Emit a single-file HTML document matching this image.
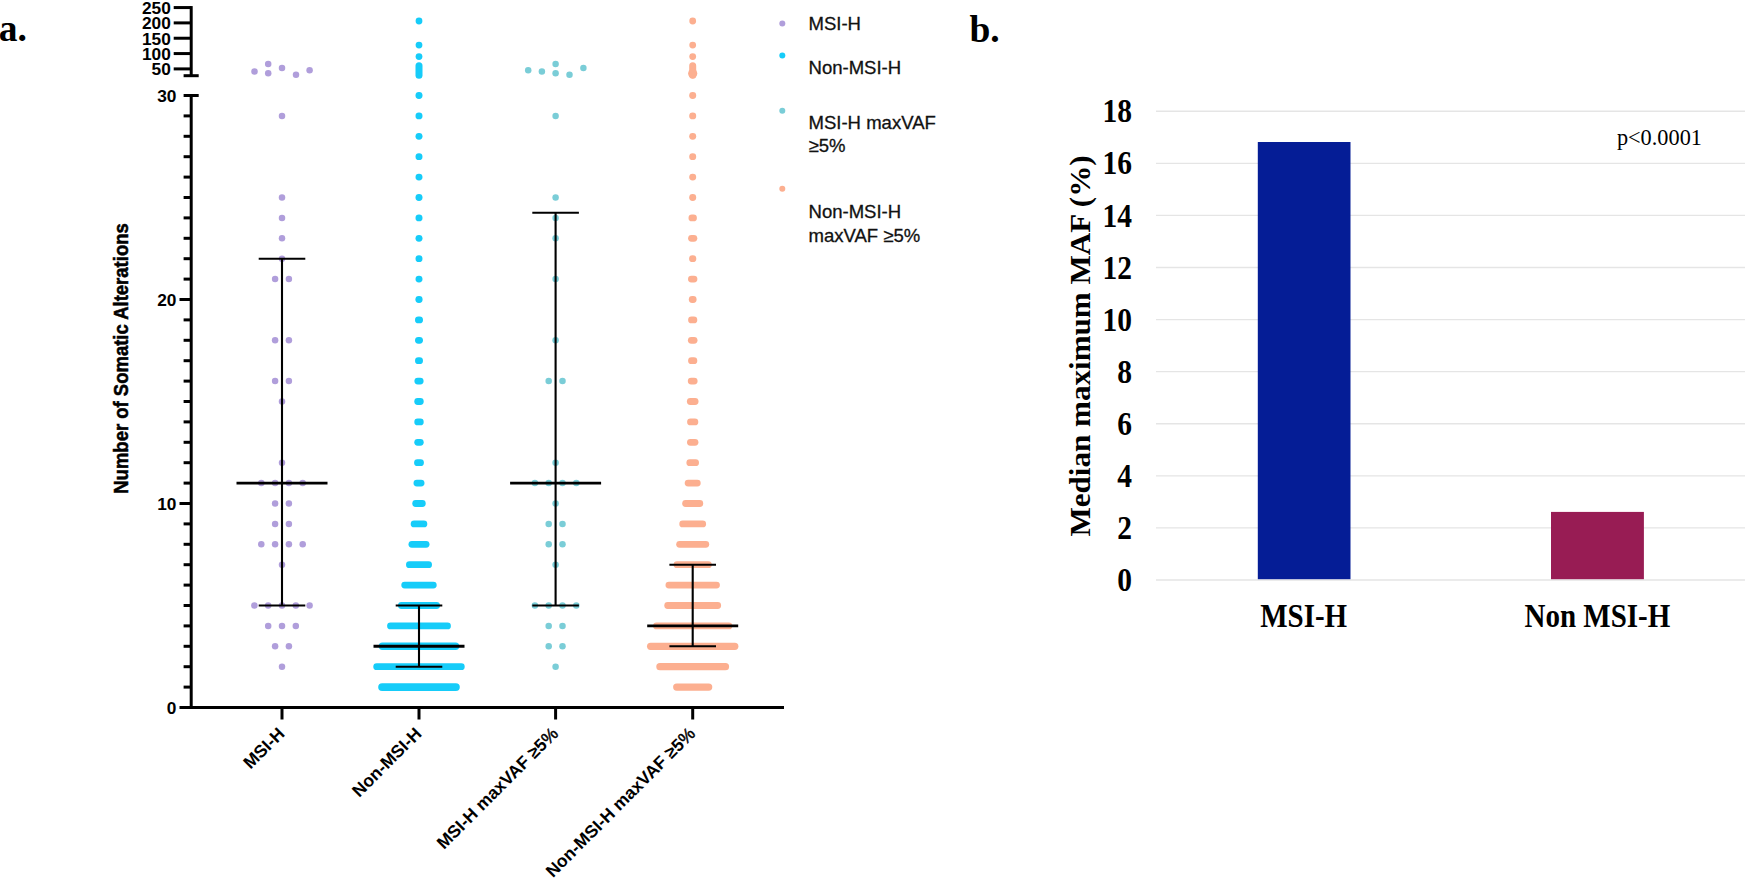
<!DOCTYPE html>
<html lang="en">
<head>
<meta charset="utf-8">
<title>Figure</title>
<style>
html,body{margin:0;padding:0;background:#fff;}
body{width:1745px;height:879px;overflow:hidden;}
svg{display:block;}
</style>
</head>
<body>
<svg width="1745" height="879" viewBox="0 0 1745 879" role="img" aria-label="Figure with panels a and b">
<rect width="1745" height="879" fill="#ffffff"/>
<g font-family='"Liberation Serif", "Times New Roman", Times, serif' font-weight="bold" font-size="37.5" fill="#000">
<text x="-1.3" y="41.3">a.</text>
<text x="969.5" y="41.5">b.</text>
</g>
<g fill="#b09edb">
<circle cx="282" cy="115.9" r="3.25"/>
<circle cx="282" cy="197.5" r="3.25"/>
<circle cx="282" cy="217.9" r="3.25"/>
<circle cx="282" cy="238.3" r="3.25"/>
<circle cx="282" cy="258.7" r="3.25"/>
<circle cx="275.1" cy="279.1" r="3.25"/><circle cx="288.9" cy="279.1" r="3.25"/>
<circle cx="275.1" cy="340.3" r="3.25"/><circle cx="288.9" cy="340.3" r="3.25"/>
<circle cx="275.1" cy="381.1" r="3.25"/><circle cx="288.9" cy="381.1" r="3.25"/>
<circle cx="282" cy="401.5" r="3.25"/>
<circle cx="282" cy="462.7" r="3.25"/>
<circle cx="261.3" cy="483.1" r="3.25"/><circle cx="275.1" cy="483.1" r="3.25"/><circle cx="288.9" cy="483.1" r="3.25"/><circle cx="302.7" cy="483.1" r="3.25"/>
<circle cx="275.1" cy="503.5" r="3.25"/><circle cx="288.9" cy="503.5" r="3.25"/>
<circle cx="275.1" cy="523.9" r="3.25"/><circle cx="288.9" cy="523.9" r="3.25"/>
<circle cx="261.3" cy="544.3" r="3.25"/><circle cx="275.1" cy="544.3" r="3.25"/><circle cx="288.9" cy="544.3" r="3.25"/><circle cx="302.7" cy="544.3" r="3.25"/>
<circle cx="282" cy="564.7" r="3.25"/>
<circle cx="254.4" cy="605.5" r="3.25"/><circle cx="268.2" cy="605.5" r="3.25"/><circle cx="282" cy="605.5" r="3.25"/><circle cx="295.8" cy="605.5" r="3.25"/><circle cx="309.6" cy="605.5" r="3.25"/>
<circle cx="268.2" cy="625.9" r="3.25"/><circle cx="282" cy="625.9" r="3.25"/><circle cx="295.8" cy="625.9" r="3.25"/>
<circle cx="275.1" cy="646.3" r="3.25"/><circle cx="288.9" cy="646.3" r="3.25"/>
<circle cx="282" cy="666.7" r="3.25"/>
<circle cx="254.5" cy="71.6" r="3.25"/>
<circle cx="268.2" cy="64.1" r="3.25"/>
<circle cx="268.2" cy="73.3" r="3.25"/>
<circle cx="282" cy="68.1" r="3.25"/>
<circle cx="296" cy="74.8" r="3.25"/>
<circle cx="309.6" cy="70.3" r="3.25"/>
</g>
<g fill="#7acdd7">
<circle cx="555.6" cy="115.9" r="3.25"/>
<circle cx="555.6" cy="197.5" r="3.25"/>
<circle cx="555.6" cy="217.9" r="3.25"/>
<circle cx="555.6" cy="238.3" r="3.25"/>
<circle cx="555.6" cy="279.1" r="3.25"/>
<circle cx="555.6" cy="340.3" r="3.25"/>
<circle cx="548.7" cy="381.1" r="3.25"/><circle cx="562.5" cy="381.1" r="3.25"/>
<circle cx="555.6" cy="462.7" r="3.25"/>
<circle cx="534.9" cy="483.1" r="3.25"/><circle cx="548.7" cy="483.1" r="3.25"/><circle cx="562.5" cy="483.1" r="3.25"/><circle cx="576.3" cy="483.1" r="3.25"/>
<circle cx="555.6" cy="503.5" r="3.25"/>
<circle cx="548.7" cy="523.9" r="3.25"/><circle cx="562.5" cy="523.9" r="3.25"/>
<circle cx="548.7" cy="544.3" r="3.25"/><circle cx="562.5" cy="544.3" r="3.25"/>
<circle cx="555.6" cy="564.7" r="3.25"/>
<circle cx="534.9" cy="605.5" r="3.25"/><circle cx="548.7" cy="605.5" r="3.25"/><circle cx="562.5" cy="605.5" r="3.25"/><circle cx="576.3" cy="605.5" r="3.25"/>
<circle cx="548.7" cy="625.9" r="3.25"/><circle cx="562.5" cy="625.9" r="3.25"/>
<circle cx="548.7" cy="646.3" r="3.25"/><circle cx="562.5" cy="646.3" r="3.25"/>
<circle cx="555.6" cy="666.7" r="3.25"/>
<circle cx="528.2" cy="70.3" r="3.25"/>
<circle cx="541.9" cy="71.6" r="3.25"/>
<circle cx="555.6" cy="64.1" r="3.25"/>
<circle cx="555.6" cy="73.3" r="3.25"/>
<circle cx="569.5" cy="74.8" r="3.25"/>
<circle cx="583.4" cy="68.1" r="3.25"/>
</g>
<g stroke="#16ccf9" stroke-width="6.8" stroke-linecap="round" fill="#16ccf9">
<line x1="382.15" y1="687.1" x2="455.85" y2="687.1" stroke-width="7.9"/>
<line x1="376.7" y1="666.7" x2="461.3" y2="666.7"/>
<line x1="382.4" y1="646.3" x2="455.6" y2="646.3" stroke-width="7.4"/>
<line x1="390.5" y1="625.9" x2="447.5" y2="625.9"/>
<line x1="401.4" y1="605.5" x2="436.6" y2="605.5"/>
<line x1="404.7" y1="585.1" x2="433.3" y2="585.1"/>
<line x1="409.4" y1="564.7" x2="428.6" y2="564.7"/>
<line x1="411.9" y1="544.3" x2="426.1" y2="544.3"/>
<line x1="414.1" y1="523.9" x2="423.9" y2="523.9"/>
<line x1="415.7" y1="503.5" x2="422.3" y2="503.5"/>
<line x1="416.9" y1="483.1" x2="421.1" y2="483.1"/>
<line x1="417.5" y1="462.7" x2="420.5" y2="462.7"/>
<line x1="417.7" y1="442.3" x2="420.3" y2="442.3"/>
<line x1="417.7" y1="421.9" x2="420.3" y2="421.9"/>
<line x1="417.7" y1="401.5" x2="420.3" y2="401.5"/>
<line x1="417.8" y1="381.1" x2="420.2" y2="381.1"/>
<line x1="418.4" y1="360.7" x2="419.6" y2="360.7"/>
<line x1="418.4" y1="340.3" x2="419.6" y2="340.3"/>
<line x1="418.4" y1="319.9" x2="419.6" y2="319.9"/>
<line x1="418.8" y1="299.5" x2="419.2" y2="299.5"/>
<line x1="418.9" y1="279.1" x2="419.1" y2="279.1"/>
<line x1="418.9" y1="258.7" x2="419.1" y2="258.7"/>
<line x1="418.9" y1="238.3" x2="419.1" y2="238.3"/>
<line x1="418.9" y1="217.9" x2="419.1" y2="217.9"/>
<line x1="418.9" y1="197.5" x2="419.1" y2="197.5"/>
<line x1="418.9" y1="177.1" x2="419.1" y2="177.1"/>
<line x1="418.9" y1="156.7" x2="419.1" y2="156.7"/>
<line x1="418.9" y1="136.3" x2="419.1" y2="136.3"/>
<line x1="418.9" y1="115.9" x2="419.1" y2="115.9"/>
<line x1="418.9" y1="95.5" x2="419.1" y2="95.5"/>
<line x1="419" y1="65.8" x2="419" y2="75.2" stroke-width="7"/>
</g>
<g fill="#16ccf9">
<circle cx="419" cy="21" r="3.4"/>
<circle cx="419" cy="45.1" r="3.4"/>
<circle cx="419" cy="56.6" r="3.4"/>
</g>
<g stroke="#fcaf90" stroke-width="6.8" stroke-linecap="round" fill="#fcaf90">
<line x1="676.7" y1="687.1" x2="708.7" y2="687.1" stroke-width="7.2"/>
<line x1="659.9" y1="666.7" x2="725.5" y2="666.7" stroke-width="7.2"/>
<line x1="650.6" y1="646.3" x2="734.8" y2="646.3" stroke-width="7.2"/>
<line x1="656.5" y1="625.9" x2="728.9" y2="625.9"/>
<line x1="667.7" y1="605.5" x2="717.7" y2="605.5"/>
<line x1="668.9" y1="585.1" x2="716.5" y2="585.1"/>
<line x1="677" y1="564.7" x2="708.4" y2="564.7"/>
<line x1="679.6" y1="544.3" x2="705.8" y2="544.3"/>
<line x1="682.7" y1="523.9" x2="702.7" y2="523.9"/>
<line x1="685.6" y1="503.5" x2="699.8" y2="503.5"/>
<line x1="688.1" y1="483.1" x2="697.3" y2="483.1"/>
<line x1="689.8" y1="462.7" x2="695.6" y2="462.7"/>
<line x1="690.4" y1="442.3" x2="695" y2="442.3"/>
<line x1="690.5" y1="421.9" x2="694.9" y2="421.9"/>
<line x1="690.3" y1="401.5" x2="695.1" y2="401.5"/>
<line x1="691.2" y1="381.1" x2="694.2" y2="381.1"/>
<line x1="691.5" y1="360.7" x2="693.9" y2="360.7"/>
<line x1="691.3" y1="340.3" x2="694.1" y2="340.3"/>
<line x1="691.5" y1="319.9" x2="693.9" y2="319.9"/>
<line x1="692.2" y1="299.5" x2="693.2" y2="299.5"/>
<line x1="691.4" y1="279.1" x2="694" y2="279.1"/>
<line x1="692.5" y1="258.7" x2="692.9" y2="258.7"/>
<line x1="691.5" y1="238.3" x2="693.9" y2="238.3"/>
<line x1="691.9" y1="217.9" x2="693.5" y2="217.9"/>
<line x1="692.6" y1="197.5" x2="692.8" y2="197.5"/>
<line x1="692.6" y1="177.1" x2="692.8" y2="177.1"/>
<line x1="692.6" y1="156.7" x2="692.8" y2="156.7"/>
<line x1="692.6" y1="136.3" x2="692.8" y2="136.3"/>
<line x1="692.6" y1="115.9" x2="692.8" y2="115.9"/>
<line x1="692.6" y1="95.5" x2="692.8" y2="95.5"/>
<line x1="692.7" y1="65.8" x2="692.7" y2="75.2" stroke-width="7"/>
</g>
<g fill="#fcaf90">
<circle cx="692.7" cy="21" r="3.4"/>
<circle cx="692.7" cy="45.1" r="3.4"/>
<circle cx="692.7" cy="56.6" r="3.4"/>
</g>
<ellipse cx="692.7" cy="73.6" rx="4.6" ry="4.8" fill="#fcaf90"/>
<g stroke="#000" fill="none"><line x1="282" y1="258.7" x2="282" y2="605.5" stroke-width="2.1"/><line x1="258.7" y1="258.7" x2="305.3" y2="258.7" stroke-width="2.1"/><line x1="258.7" y1="605.5" x2="305.3" y2="605.5" stroke-width="2.1"/><line x1="236.5" y1="483.1" x2="327.5" y2="483.1" stroke-width="2.9"/></g>
<g stroke="#000" fill="none"><line x1="419" y1="605.5" x2="419" y2="666.7" stroke-width="2.1"/><line x1="395.7" y1="605.5" x2="442.3" y2="605.5" stroke-width="2.1"/><line x1="395.7" y1="666.7" x2="442.3" y2="666.7" stroke-width="2.1"/><line x1="373.5" y1="646.3" x2="464.5" y2="646.3" stroke-width="2.9"/></g>
<g stroke="#000" fill="none"><line x1="555.6" y1="212.8" x2="555.6" y2="605.5" stroke-width="2.1"/><line x1="532.3" y1="212.8" x2="578.9" y2="212.8" stroke-width="2.1"/><line x1="532.3" y1="605.5" x2="578.9" y2="605.5" stroke-width="2.1"/><line x1="510.1" y1="483.1" x2="601.1" y2="483.1" stroke-width="2.9"/></g>
<g stroke="#000" fill="none"><line x1="692.7" y1="564.7" x2="692.7" y2="646.3" stroke-width="2.1"/><line x1="669.4" y1="564.7" x2="716" y2="564.7" stroke-width="2.1"/><line x1="669.4" y1="646.3" x2="716" y2="646.3" stroke-width="2.1"/><line x1="647.2" y1="625.9" x2="738.2" y2="625.9" stroke-width="2.9"/></g>
<g stroke="#000" stroke-width="3" fill="none">
<line x1="191.2" y1="94" x2="191.2" y2="709"/>
<line x1="179.5" y1="707.5" x2="784" y2="707.5"/>
<line x1="183.6" y1="687.1" x2="191.2" y2="687.1"/>
<line x1="183.6" y1="666.7" x2="191.2" y2="666.7"/>
<line x1="183.6" y1="646.3" x2="191.2" y2="646.3"/>
<line x1="183.6" y1="625.9" x2="191.2" y2="625.9"/>
<line x1="183.6" y1="605.5" x2="191.2" y2="605.5"/>
<line x1="183.6" y1="585.1" x2="191.2" y2="585.1"/>
<line x1="183.6" y1="564.7" x2="191.2" y2="564.7"/>
<line x1="183.6" y1="544.3" x2="191.2" y2="544.3"/>
<line x1="183.6" y1="523.9" x2="191.2" y2="523.9"/>
<line x1="179.5" y1="503.5" x2="191.2" y2="503.5"/>
<line x1="183.6" y1="483.1" x2="191.2" y2="483.1"/>
<line x1="183.6" y1="462.7" x2="191.2" y2="462.7"/>
<line x1="183.6" y1="442.3" x2="191.2" y2="442.3"/>
<line x1="183.6" y1="421.9" x2="191.2" y2="421.9"/>
<line x1="183.6" y1="401.5" x2="191.2" y2="401.5"/>
<line x1="183.6" y1="381.1" x2="191.2" y2="381.1"/>
<line x1="183.6" y1="360.7" x2="191.2" y2="360.7"/>
<line x1="183.6" y1="340.3" x2="191.2" y2="340.3"/>
<line x1="183.6" y1="319.9" x2="191.2" y2="319.9"/>
<line x1="179.5" y1="299.5" x2="191.2" y2="299.5"/>
<line x1="183.6" y1="279.1" x2="191.2" y2="279.1"/>
<line x1="183.6" y1="258.7" x2="191.2" y2="258.7"/>
<line x1="183.6" y1="238.3" x2="191.2" y2="238.3"/>
<line x1="183.6" y1="217.9" x2="191.2" y2="217.9"/>
<line x1="183.6" y1="197.5" x2="191.2" y2="197.5"/>
<line x1="183.6" y1="177.1" x2="191.2" y2="177.1"/>
<line x1="183.6" y1="156.7" x2="191.2" y2="156.7"/>
<line x1="183.6" y1="136.3" x2="191.2" y2="136.3"/>
<line x1="183.6" y1="115.9" x2="191.2" y2="115.9"/>
<line x1="183.6" y1="95.5" x2="198.7" y2="95.5"/>
<line x1="282" y1="707.5" x2="282" y2="719.5"/>
<line x1="419" y1="707.5" x2="419" y2="719.5"/>
<line x1="555.6" y1="707.5" x2="555.6" y2="719.5"/>
<line x1="692.7" y1="707.5" x2="692.7" y2="719.5"/>
<line x1="191.2" y1="6.06" x2="191.2" y2="75.7"/>
<line x1="183.6" y1="75.7" x2="198.7" y2="75.7"/>
<line x1="173.7" y1="68.9" x2="191.2" y2="68.9"/>
<line x1="173.7" y1="53.57" x2="191.2" y2="53.57"/>
<line x1="173.7" y1="38.23" x2="191.2" y2="38.23"/>
<line x1="173.7" y1="22.9" x2="191.2" y2="22.9"/>
<line x1="173.7" y1="7.56" x2="191.2" y2="7.56"/>
</g>
<g font-family='"Liberation Sans", Arial, Helvetica, sans-serif' font-weight="bold" font-size="17.3" fill="#000" text-anchor="end">
<text x="176.4" y="714.3">0</text>
<text x="176.4" y="509.8">10</text>
<text x="176.4" y="305.8">20</text>
<text x="176.4" y="101.8">30</text>
<text x="170.8" y="75.4">50</text>
<text x="170.8" y="60.07">100</text>
<text x="170.8" y="44.73">150</text>
<text x="170.8" y="29.4">200</text>
<text x="170.8" y="14.06">250</text>
</g>
<text transform="translate(128.1 358.5) rotate(-90) scale(1 1.05)" text-anchor="middle" font-family='"Liberation Sans", Arial, Helvetica, sans-serif' font-weight="bold" font-size="18.5" fill="#000" stroke="#000" stroke-width="0.5">Number of Somatic Alterations</text>
<g font-family='"Liberation Sans", Arial, Helvetica, sans-serif' font-weight="bold" font-size="17.5" fill="#000" text-anchor="end">
<text transform="translate(285.6 734.8) rotate(-45)">MSI-H</text>
<text transform="translate(422.6 734.8) rotate(-45)">Non-MSI-H</text>
<text transform="translate(559.2 734.8) rotate(-45)">MSI-H maxVAF ≥5<tspan font-weight="normal" stroke="#000" stroke-width="0.45">%</tspan></text>
<text transform="translate(696.3 734.8) rotate(-45)">Non-MSI-H maxVAF ≥5<tspan font-weight="normal" stroke="#000" stroke-width="0.45">%</tspan></text>
</g>
<circle cx="782.3" cy="23.6" r="3" fill="#b09edb"/>
<circle cx="782.3" cy="55.5" r="3" fill="#16ccf9"/>
<circle cx="782.3" cy="110.8" r="3" fill="#7acdd7"/>
<circle cx="782.3" cy="188.8" r="3" fill="#fcaf90"/>
<g font-family='"Liberation Sans", Arial, Helvetica, sans-serif' font-size="18.55" fill="#111" stroke="#111" stroke-width="0.3">
<text x="808.5" y="30.1">MSI-H</text>
<text x="808.5" y="74">Non-MSI-H</text>
<text x="808.5" y="128.7">MSI-H maxVAF</text>
<text x="808.5" y="151.8">≥5%</text>
<text x="808.5" y="218.3">Non-MSI-H</text>
<text x="808.5" y="242">maxVAF ≥5%</text>
</g>
<g stroke="#e5e5e5" stroke-width="1.35">
<line x1="1156" y1="580" x2="1745" y2="580"/>
<line x1="1156" y1="527.92" x2="1745" y2="527.92"/>
<line x1="1156" y1="475.84" x2="1745" y2="475.84"/>
<line x1="1156" y1="423.76" x2="1745" y2="423.76"/>
<line x1="1156" y1="371.68" x2="1745" y2="371.68"/>
<line x1="1156" y1="319.6" x2="1745" y2="319.6"/>
<line x1="1156" y1="267.52" x2="1745" y2="267.52"/>
<line x1="1156" y1="215.44" x2="1745" y2="215.44"/>
<line x1="1156" y1="163.36" x2="1745" y2="163.36"/>
<line x1="1156" y1="111.28" x2="1745" y2="111.28"/>
</g>
<rect x="1257.8" y="142.01" width="92.7" height="437.19" fill="#051d96"/>
<rect x="1551" y="511.91" width="92.9" height="67.29" fill="#981c54"/>
<g font-family='"Liberation Serif", "Times New Roman", Times, serif' font-weight="bold" font-size="29.5" fill="#000" text-anchor="end">
<text transform="translate(1132 591.1) scale(1 1.114)">0</text>
<text transform="translate(1132 539.02) scale(1 1.114)">2</text>
<text transform="translate(1132 486.94) scale(1 1.114)">4</text>
<text transform="translate(1132 434.86) scale(1 1.114)">6</text>
<text transform="translate(1132 382.78) scale(1 1.114)">8</text>
<text transform="translate(1132 330.7) scale(1 1.114)">10</text>
<text transform="translate(1132 278.62) scale(1 1.114)">12</text>
<text transform="translate(1132 226.54) scale(1 1.114)">14</text>
<text transform="translate(1132 174.46) scale(1 1.114)">16</text>
<text transform="translate(1132 122.38) scale(1 1.114)">18</text>
</g>
<text transform="translate(1090.2 346) rotate(-90) scale(1.091 1)" text-anchor="middle" font-family='"Liberation Serif", "Times New Roman", Times, serif' font-weight="bold" font-size="28.5" fill="#000">Median maximum MAF (%)</text>
<g font-family='"Liberation Serif", "Times New Roman", Times, serif' font-weight="bold" font-size="29" fill="#000" text-anchor="middle">
<text transform="translate(1303.7 626.7) scale(1 1.146)">MSI-H</text>
<text transform="translate(1597.4 626.7) scale(1 1.146)">Non MSI-H</text>
</g>
<text transform="translate(1616.9 144.5) scale(1 1.05)" font-family='"Liberation Serif", "Times New Roman", Times, serif' font-size="22.3" fill="#000">p&lt;0.0001</text>
</svg>
</body>
</html>
